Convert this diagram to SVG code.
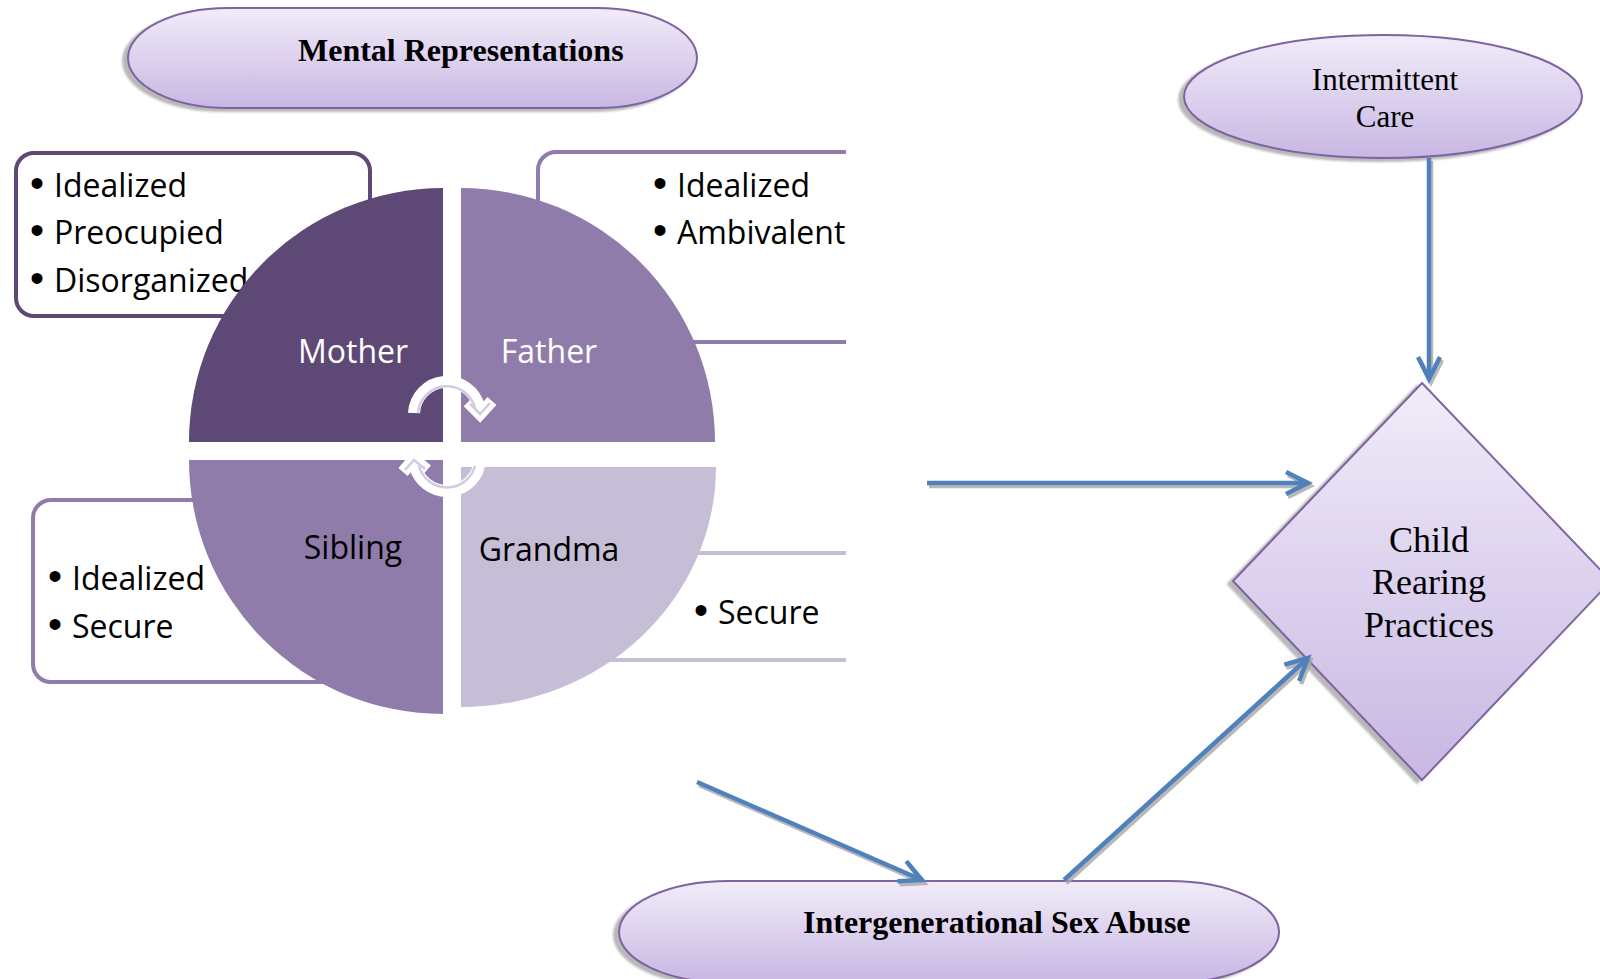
<svg xmlns="http://www.w3.org/2000/svg" width="1600" height="979" viewBox="0 0 1600 979">
  <defs>
    <linearGradient id="nodeFill" x1="0" y1="0" x2="0" y2="1">
      <stop offset="0" stop-color="#f1ecf9"/>
      <stop offset="1" stop-color="#c8b7e3"/>
    </linearGradient>
    <filter id="nodeShadow" x="-10%" y="-10%" width="120%" height="130%">
      <feDropShadow dx="-5" dy="3" stdDeviation="1" flood-color="#9a9a9a" flood-opacity="0.7"/>
    </filter>
    <filter id="lineShadow" x="-10%" y="-10%" width="120%" height="130%">
      <feDropShadow dx="2" dy="3" stdDeviation="0.6" flood-color="#a6a6a6" flood-opacity="0.8"/>
    </filter>
    <marker id="chev" markerUnits="userSpaceOnUse" markerWidth="30" markerHeight="30" viewBox="0 0 30 30" refX="25" refY="15" orient="auto">
      <path d="M3,4 L25,15 L3,26" fill="none" stroke="#4f81bd" stroke-width="4.5" stroke-linejoin="miter"/>
    </marker>
    <clipPath id="panelClip">
      <rect x="0" y="0" width="846" height="979"/>
    </clipPath>
    <style>
      .node { fill: url(#nodeFill); stroke: #7f63a1; stroke-width: 2; }
      .conn { fill: none; stroke: #4f81bd; stroke-width: 4.5; marker-end: url(#chev); }
      .serif { font-family: "Liberation Serif", "Times New Roman", serif; fill: #000; }
      .sans { font-family: "Open Sans", "Noto Sans", sans-serif; font-size: 32px; }
      .dot { font-family: "Liberation Sans", Arial, sans-serif; font-size: 40px; }
      .box { fill: #fff; stroke-width: 4; }
      .band { fill: none; stroke: #ffffff; stroke-width: 12; stroke-linecap: butt; stroke-linejoin: miter; }
      .bandIn { fill: none; stroke: #d3cbe2; stroke-width: 2.5; }
    </style>
  </defs>

  <rect width="1600" height="979" fill="#ffffff"/>

  <!-- attachment style boxes behind the family wheel -->
  <g id="box-mother" clip-path="url(#panelClip)">
    <rect class="box" x="16" y="153" width="354" height="163" rx="18" stroke="#5d4876"/>
    <text class="sans" y="197"><tspan class="dot" x="30">•</tspan><tspan x="54">Idealized</tspan></text>
    <text class="sans" y="244"><tspan class="dot" x="30">•</tspan><tspan x="54">Preocupied</tspan></text>
    <text class="sans" y="292"><tspan class="dot" x="30">•</tspan><tspan x="54">Disorganized</tspan></text>
  </g>
  <g id="box-father" clip-path="url(#panelClip)">
    <rect class="box" x="538" y="152" width="400" height="190" rx="18" stroke="#8f7caa"/>
    <text class="sans" y="197"><tspan class="dot" x="653">•</tspan><tspan x="677">Idealized</tspan></text>
    <text class="sans" y="244"><tspan class="dot" x="653">•</tspan><tspan x="677">Ambivalent</tspan></text>
  </g>
  <g id="box-sibling" clip-path="url(#panelClip)">
    <rect class="box" x="33" y="500" width="390" height="182" rx="18" stroke="#8f7caa"/>
    <text class="sans" y="590"><tspan class="dot" x="48">•</tspan><tspan x="72">Idealized</tspan></text>
    <text class="sans" y="638"><tspan class="dot" x="48">•</tspan><tspan x="72">Secure</tspan></text>
  </g>
  <g id="box-grandma" clip-path="url(#panelClip)">
    <rect class="box" x="470" y="553" width="460" height="107" rx="18" stroke="#c6bed6"/>
    <text class="sans" y="624"><tspan class="dot" x="694">•</tspan><tspan x="718">Secure</tspan></text>
  </g>

  <!-- family wheel: four quarter discs -->
  <g id="quad-mother">
    <path d="M443,442 L189,442 A254,254 0 0 1 443,188 Z" fill="#5d4876"/>
    <text class="sans" x="353" y="363" text-anchor="middle" fill="#ffffff">Mother</text>
  </g>
  <g id="quad-father">
    <path d="M461,442 L461,188 A254,254 0 0 1 715,442 Z" fill="#8f7caa"/>
    <text class="sans" x="549" y="363" text-anchor="middle" fill="#ffffff">Father</text>
  </g>
  <g id="quad-sibling">
    <path d="M443,460 L443,714 A254,254 0 0 1 189,460 Z" fill="#8f7caa"/>
    <text class="sans" x="353" y="559" text-anchor="middle" fill="#000000">Sibling</text>
  </g>
  <g id="quad-grandma">
    <path d="M461,467 L716,467 A255,240 0 0 1 461,707 Z" fill="#c6bed6"/>
    <text class="sans" x="549" y="561" text-anchor="middle" fill="#000000">Grandma</text>
  </g>

  <!-- circular arrows in the middle of the wheel -->
  <g id="cycle-arrows">
    <path class="band" d="M414,413 A33,33 0 0 1 479,407"/>
    <path class="band" d="M468,402 L480,414 L492,401"/>
    <path class="bandIn" d="M418,413 A29,29 0 0 1 475,408"/>
    <path class="bandIn" d="M470,404 L480,414 L490,403"/>
    <path class="band" d="M479,466 A33,33 0 0 1 415,466"/>
    <path class="band" d="M403,472 L414,459 L427,470"/>
    <path class="bandIn" d="M475,466 A29,29 0 0 1 419,466"/>
    <path class="bandIn" d="M405,470 L414,460 L425,469"/>
  </g>

  <!-- flow nodes -->
  <g id="node-mental-representations">
    <rect class="node" x="128" y="8" width="569" height="100" rx="100" ry="50" filter="url(#nodeShadow)"/>
    <text class="serif" x="298" y="61" font-size="32" font-weight="bold">Mental Representations</text>
  </g>
  <g id="node-intermittent-care">
    <ellipse class="node" cx="1383" cy="96.5" rx="199" ry="61.5" filter="url(#nodeShadow)"/>
    <text class="serif" x="1385" y="90" font-size="31" text-anchor="middle">Intermittent</text>
    <text class="serif" x="1385" y="127" font-size="31" text-anchor="middle">Care</text>
  </g>
  <g id="node-child-rearing">
    <polygon class="node" points="1422,383 1611,581 1422,780 1233,581" filter="url(#nodeShadow)"/>
    <text class="serif" x="1429" y="552" font-size="36" text-anchor="middle">Child</text>
    <text class="serif" x="1429" y="594" font-size="36" text-anchor="middle">Rearing</text>
    <text class="serif" x="1429" y="637" font-size="36" text-anchor="middle">Practices</text>
  </g>
  <g id="node-sex-abuse">
    <rect class="node" x="619" y="881" width="660" height="102" rx="110" ry="51" filter="url(#nodeShadow)"/>
    <text class="serif" x="803" y="933" font-size="32" font-weight="bold">Intergenerational Sex Abuse</text>
  </g>

  <!-- connectors -->
  <g id="connectors" filter="url(#lineShadow)">
    <path class="conn" d="M1429,158 L1429,379"/>
    <path class="conn" d="M927,483 L1308,483"/>
    <path class="conn" d="M697,782 L922,880"/>
    <path class="conn" d="M1064,880 L1308,658"/>
  </g>
</svg>
